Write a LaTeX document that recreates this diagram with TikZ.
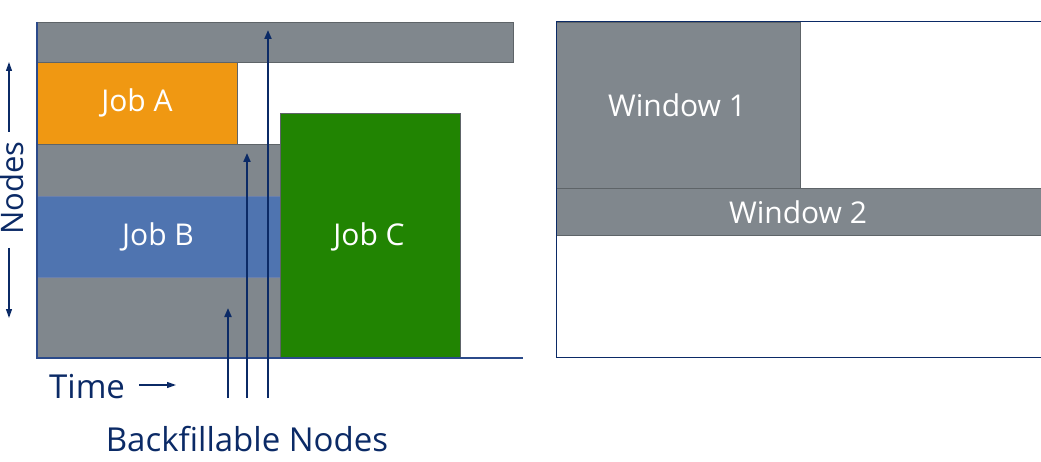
\documentclass[tikz,border=0pt]{standalone}
\usepackage{fontspec}
\setmainfont{Open Sans}
\usetikzlibrary{arrows.meta}
\definecolor{gbar}{HTML}{80878D}
\definecolor{gedge}{HTML}{5E6468}
\definecolor{joba}{HTML}{F09812}
\definecolor{jobb}{HTML}{4F74B0}
\definecolor{jobc}{HTML}{218402}
\definecolor{navy}{HTML}{0B2A66}
\definecolor{axis}{HTML}{2B4A8A}
\tikzset{
  x=1pt, y=-1pt,
  greybox/.style={fill=gbar, draw=gedge, line width=0.8pt},
  jobbox/.style={draw=gedge, line width=0.8pt},
  lbl/.style={text=navy, font=\fontsize{33}{36}\selectfont, inner sep=0pt},
  wlbl/.style={text=white, font=\fontsize{30}{34}\selectfont, inner sep=0pt},
  bfarrow/.style={draw=navy, line width=2pt, -{Triangle[length=9pt,width=7pt]}},
  axarrow/.style={draw=navy, line width=1.2pt, -{Triangle[length=9pt,width=6pt]}}
}
\begin{document}
\begin{tikzpicture}
\useasboundingbox (0,0) rectangle (1041,462);
% left panel
\fill[gbar] (37,144) rectangle (281,358);
\draw[greybox] (37,22) rectangle (513,62);
\draw[jobbox, fill=joba] (37,62) rectangle (237,144);
\node[wlbl] (ja) at (137,103) {Job A};
\draw[draw=gedge, line width=0.8pt] (37,144) -- (281,144);
\fill[jobb] (37,196) rectangle (281,277);
\draw[draw=axis!70, line width=0.8pt] (37,196) -- (281,196) (37,277) -- (281,277);
\node[wlbl] (jb) at (158,237) {Job B};
\draw[jobbox, fill=jobc] (280,113) rectangle (460,358);
\node[wlbl] (jc) at (369,237) {Job C};
% axes
\draw[axis, line width=1.2pt] (37,22) -- (37,358) -- (523,358);
% backfill arrows
\coordinate (b1) at (228,398);
\coordinate (b2) at (247,398);
\coordinate (b3) at (268,398);
\coordinate (t1) at (228,308);
\coordinate (t2) at (247,153);
\coordinate (t3) at (268,30);
\draw[bfarrow] (b1) -- (t1);
\draw[bfarrow] (b2) -- (t2);
\draw[bfarrow] (b3) -- (t3);
% labels
\node[lbl, rotate=90, font=\fontsize{31}{34}\selectfont] (nodes) at (12,188) {Nodes};
\coordinate (nu0) at (9,132);
\coordinate (nu1) at (9,62);
\coordinate (nd0) at (9,248);
\coordinate (nd1) at (9,318);
\draw[axarrow] (nu0) -- (nu1);
\draw[axarrow] (nd0) -- (nd1);
\node[lbl, anchor=west] (time) at (49,387) {Time};
\coordinate (ta0) at (139,385);
\coordinate (ta1) at (176,385);
\draw[axarrow] (ta0) -- (ta1);
\node[lbl] (bf) at (247,439) {Backfillable Nodes};
% right panel
\draw[greybox] (556,22) rectangle (800,188);
\node[wlbl] (w1) at (677,105) {Window 1};
\draw[greybox] (556,188) rectangle (1041,235);
\node[wlbl] (w2) at (798,212) {Window 2};
\draw[navy, line width=1pt] (556,22) rectangle (1041,357);
\end{tikzpicture}
\end{document}
